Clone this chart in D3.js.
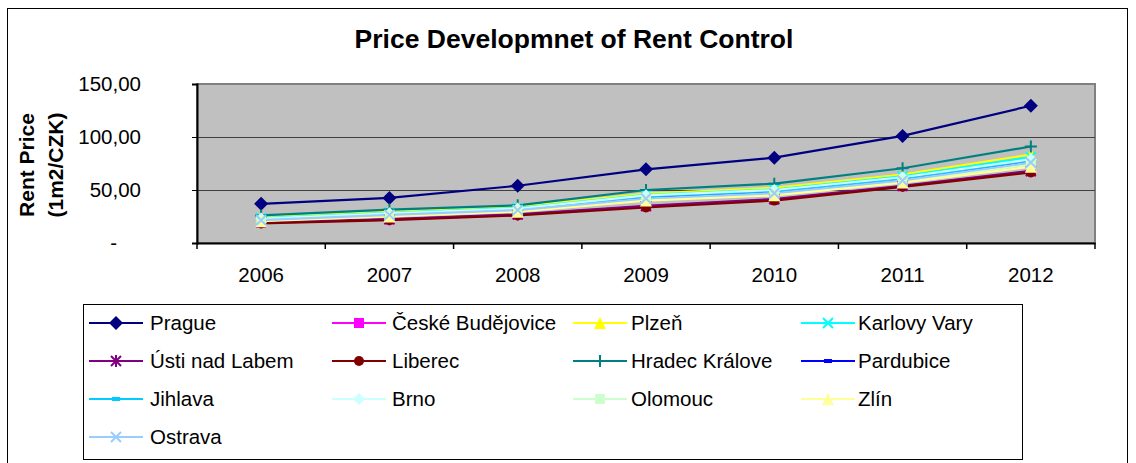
<!DOCTYPE html>
<meta charset="utf-8">
<html>
<head>
<script src="https://d3js.org/d3.v7.min.js"></script>
<style>
  body { margin: 0; background: #fff; }
  svg { display: block; font-family: "Liberation Sans", Arial, sans-serif; }
</style>
</head>
<body>
<div id="chart"></div>
<script>
// ---- data ----
var years = ["2006", "2007", "2008", "2009", "2010", "2011", "2012"];
var yTicks = [0, 50, 100, 150];

var prague      = [37, 42.5, 54, 69.5, 80.5, 101, 129.5];
var budejovice  = [19, 22, 26.5, 34.5, 41, 53.5, 67.5];
var plzen       = [24.5, 29.5, 34, 46.5, 52, 64.5, 83.5];
var karlovyVary = [23.5, 28.5, 33, 45.5, 50.5, 63, 81];
var usti        = [19.5, 22.5, 27, 35, 41.5, 54, 68];
var liberec     = [18.5, 21.5, 26, 33.5, 40, 53, 66.5];
var hradec      = [26, 31.5, 35.5, 50, 56, 70.5, 91];
var pardubice   = [22, 27, 31.5, 43, 48, 60, 77];
var jihlava     = [22.5, 27.5, 32, 44, 49, 61, 78];
var brno        = [23, 28, 32.5, 45, 50, 62, 79];
var olomouc     = [21, 26, 30, 41, 46, 58, 74];
var zlin        = [20.5, 25, 29.5, 40, 45, 57, 72];
var ostrava     = [21.5, 26.5, 31, 42, 47, 59, 76];

var series = [
  { name: "Prague",            values: prague,      color: "#000080", marker: "diamond", size: 7 },
  { name: "České Budějovice",  values: budejovice,  color: "#FF00FF", marker: "square",  size: 5 },
  { name: "Plzeň",             values: plzen,       color: "#FFFF00", marker: "triangle", size: 6 },
  { name: "Karlovy Vary",      values: karlovyVary, color: "#00FFFF", marker: "x",       size: 5 },
  { name: "Ústi nad Labem",    values: usti,        color: "#800080", marker: "star",    size: 5 },
  { name: "Liberec",           values: liberec,     color: "#800000", marker: "circle",  size: 5 },
  { name: "Hradec Králove",    values: hradec,      color: "#008080", marker: "plus",    size: 6 },
  { name: "Pardubice",         values: pardubice,   color: "#0000FF", marker: "dash",    size: 4 },
  { name: "Jihlava",           values: jihlava,     color: "#00CCFF", marker: "dash",    size: 4 },
  { name: "Brno",              values: brno,        color: "#CCFFFF", marker: "diamond", size: 6 },
  { name: "Olomouc",           values: olomouc,     color: "#CCFFCC", marker: "square",  size: 5 },
  { name: "Zlín",              values: zlin,        color: "#FFFF99", marker: "triangle", size: 6 },
  { name: "Ostrava",           values: ostrava,     color: "#99CCFF", marker: "x",       size: 5 }
];

var W = 1136, H = 463;
var plot = { left: 197, right: 1095, top: 84, bottom: 243 };

var svg = d3.select("#chart").append("svg")
  .attr("width", W).attr("height", H);

// outer chart frame
svg.append("rect")
  .attr("x", 7.5).attr("y", 8.5).attr("width", 1120).attr("height", 470)
  .attr("fill", "#fff").attr("stroke", "#000").attr("stroke-width", 1);

svg.append("text")
  .attr("x", 574).attr("y", 48)
  .attr("text-anchor", "middle")
  .style("font-size", "26.5px").style("font-weight", "bold")
  .text("Price Developmnet of Rent Control");

var x = d3.scaleBand().domain(years).range([plot.left, plot.right]);
var y = d3.scaleLinear().domain([0, 150]).range([plot.bottom, plot.top]);
var cx = function (i) { return x(years[i]) + x.bandwidth() / 2; };

// plot area
svg.append("rect")
  .attr("x", plot.left).attr("y", plot.top)
  .attr("width", plot.right - plot.left).attr("height", plot.bottom - plot.top)
  .attr("fill", "#C0C0C0").attr("stroke", "#808080").attr("stroke-width", 2);

svg.selectAll(".grid")
  .data([50, 100])
  .enter().append("line")
  .attr("x1", plot.left).attr("x2", plot.right)
  .attr("y1", function (d) { return Math.round(y(d)) + 0.5; })
  .attr("y2", function (d) { return Math.round(y(d)) + 0.5; })
  .attr("stroke", "#404040").attr("stroke-width", 1);

// y axis
var yAxis = svg.append("g")
  .attr("transform", "translate(" + plot.left + ",0)")
  .call(d3.axisLeft(y).tickValues(yTicks).tickSize(5).tickPadding(51)
    .tickFormat(function (d) { return d === 0 ? "-" : d3.format(".2f")(d).replace(".", ","); }));
yAxis.select(".domain").attr("stroke", "#000").attr("stroke-width", 2);
yAxis.selectAll("text").style("font-size", "20.5px").attr("fill", "#000")
  .attr("dx", function (d) { return d === 0 ? -24 : 0; });

// x axis: labels centred, ticks between categories
var xAxis = svg.append("g")
  .attr("transform", "translate(0," + plot.bottom + ")")
  .call(d3.axisBottom(x).tickSize(0).tickPadding(24));
xAxis.select(".domain").attr("stroke", "#000").attr("stroke-width", 2);
xAxis.selectAll("text").style("font-size", "20.5px").attr("fill", "#000");
xAxis.selectAll(".tickmark")
  .data(years.concat(["end"]))
  .enter().append("line")
  .attr("x1", function (d) { return d === "end" ? plot.right : x(d); })
  .attr("x2", function (d) { return d === "end" ? plot.right : x(d); })
  .attr("y1", 0).attr("y2", 6)
  .attr("stroke", "#000").attr("stroke-width", 1.5);

// y axis title
var yTitle = svg.append("text")
  .attr("transform", "translate(34,165) rotate(-90)")
  .attr("text-anchor", "middle")
  .style("font-size", "21px").style("font-weight", "bold");
yTitle.append("tspan").attr("x", 0).attr("y", 0).text("Rent Price");
yTitle.append("tspan").attr("x", 0).attr("y", 29).text("(1m2/CZK)");

// marker drawing
function drawMarker(g, s) {
  var r = s.size, c = s.color;
  if (s.marker === "diamond") {
    g.append("path").attr("d", "M0," + (-r) + "L" + r + ",0L0," + r + "L" + (-r) + ",0Z").attr("fill", c);
  } else if (s.marker === "square") {
    g.append("rect").attr("x", -r).attr("y", -r).attr("width", 2 * r).attr("height", 2 * r).attr("fill", c);
  } else if (s.marker === "triangle") {
    g.append("path").attr("d", "M0," + (-r) + "L" + r + "," + r + "L" + (-r) + "," + r + "Z").attr("fill", c);
  } else if (s.marker === "circle") {
    g.append("circle").attr("r", r).attr("fill", c);
  } else if (s.marker === "x") {
    g.append("path").attr("d", "M" + (-r) + "," + (-r) + "L" + r + "," + r + "M" + r + "," + (-r) + "L" + (-r) + "," + r)
      .attr("stroke", c).attr("stroke-width", 2);
  } else if (s.marker === "star") {
    g.append("path").attr("d", "M" + (-r) + "," + (-r) + "L" + r + "," + r + "M" + r + "," + (-r) + "L" + (-r) + "," + r +
      "M0," + (-r - 1) + "L0," + (r + 1))
      .attr("stroke", c).attr("stroke-width", 2);
  } else if (s.marker === "plus") {
    g.append("path").attr("d", "M" + (-r) + ",0L" + r + ",0M0," + (-r) + "L0," + r)
      .attr("stroke", c).attr("stroke-width", 2);
  } else if (s.marker === "dash") {
    g.append("rect").attr("x", -r).attr("y", -2).attr("width", 2 * r).attr("height", 4).attr("fill", c);
  }
}

// lines
var line = d3.line()
  .x(function (d, i) { return cx(i); })
  .y(function (d) { return y(d); });

series.forEach(function (s) {
  svg.append("path")
    .attr("d", line(s.values))
    .attr("fill", "none")
    .attr("stroke", s.color)
    .attr("stroke-width", 2.2);
});
series.forEach(function (s) {
  s.values.forEach(function (v, i) {
    var g = svg.append("g").attr("transform", "translate(" + cx(i) + "," + y(v) + ")");
    drawMarker(g, s);
  });
});

// legend
svg.append("rect")
  .attr("x", 83.5).attr("y", 304.5).attr("width", 939).attr("height", 155)
  .attr("fill", "#fff").attr("stroke", "#000").attr("stroke-width", 1);

var colX = [89, 332, 573, 801];
var textX = [150, 392, 631, 858];
var rowY = [323, 361, 399, 437];

series.forEach(function (s, i) {
  var col = i % 4, row = Math.floor(i / 4);
  var lx = colX[col], ly = rowY[row];
  var g = svg.append("g");
  g.append("line")
    .attr("x1", lx).attr("x2", lx + 54)
    .attr("y1", ly).attr("y2", ly)
    .attr("stroke", s.color).attr("stroke-width", 2.2);
  var m = g.append("g").attr("transform", "translate(" + (lx + 27) + "," + ly + ")");
  drawMarker(m, s);
  g.append("text")
    .attr("x", textX[col]).attr("y", ly)
    .attr("dy", "0.36em")
    .style("font-size", "20.5px")
    .text(s.name);
});
</script>
</body>
</html>
